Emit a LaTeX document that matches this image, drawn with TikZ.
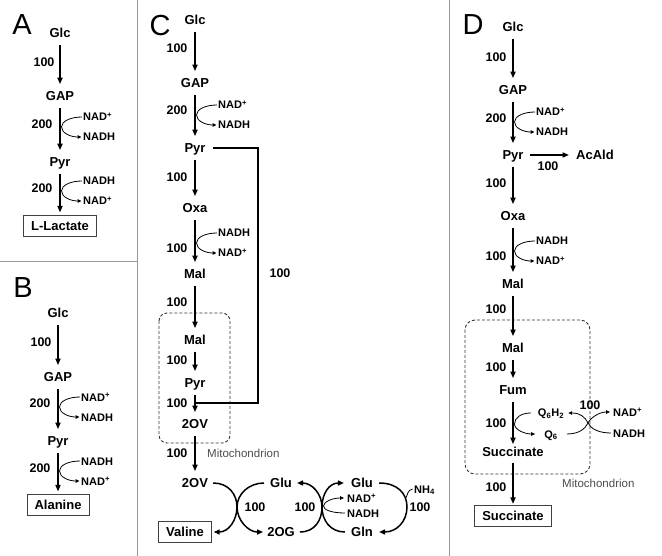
\documentclass[tikz,border=0pt]{standalone}
\usepackage{fontspec}
\setmainfont{Liberation Sans}
\usetikzlibrary{arrows.meta}
\newcommand\cofside[5]{%
  \node[cof] (#1t) at (#2+22,#3-10) {#4};
  \node[cof] (#1b) at (#2+22,#3+10) {#5};
  \draw[thinarr] (#1t.west) .. controls +(-11,0) and +(0,-6) .. (#2+1.5,#3) .. controls +(0,6) and +(-11,0) .. ([xshift=-0.5pt]#1b.west);
}
\begin{document}
\begin{tikzpicture}[x=1pt,y=-1pt,
  lbl/.style={font=\fontsize{13}{14}\selectfont\bfseries, inner sep=1pt, text height=9.3pt, text depth=0pt},
  num/.style={font=\fontsize{12.5}{14}\selectfont\bfseries, inner sep=0pt, text height=9pt, text depth=0pt},
  cof/.style={font=\fontsize{11}{12}\selectfont\bfseries, inner sep=1pt, text height=8pt, text depth=0pt, anchor=west},
  cofc/.style={font=\fontsize{11}{12}\selectfont\bfseries, inner sep=1pt, text height=8pt, text depth=0pt},
  prod/.style={lbl, draw=black!75, line width=0.8pt, inner xsep=7.5pt, inner ysep=5.5pt},
  plet/.style={font=\fontsize{29}{31}\selectfont, inner sep=0pt, anchor=base},
  mito/.style={font=\fontsize{11.5}{13}\selectfont, text=black!70, inner sep=0pt, anchor=west, text height=8.3pt, text depth=0pt},
  flux/.style={line width=1.6pt, -{Triangle[length=6.5pt,width=5pt]}, shorten <=6pt, shorten >=6pt},
  fluxline/.style={line width=1.6pt},
  cycarr/.style={line width=1.5pt, -{Triangle[length=6pt,width=5pt]}},
  thinarr/.style={line width=0.8pt, -{Triangle[length=4pt,width=3.5pt]}},
  thinl/.style={line width=0.8pt},
  mitobox/.style={draw=black!80, line width=0.9pt, dash pattern=on 3pt off 2pt},
  divider/.style={draw=black!40, line width=1pt}
]
\useasboundingbox (0,0) rectangle (662,556);
% dividers
\draw[divider] (137,0) -- (137,556);
\draw[divider] (449,0) -- (449,556);
\draw[divider] (0,262) -- (137,262);

% ---------- Panel A ----------
\node[plet] (Alet) at (22,35) {A};
\node[lbl] (AGlc) at (60,33) {Glc};
\node[lbl] (AGAP) at (60,96) {GAP};
\node[lbl] (APyr) at (60,162) {Pyr};
\node[prod] (ALac) at (60,226) {L-Lactate};
\draw[flux] (AGlc) -- (AGAP);
\draw[flux] (AGAP) -- (APyr);
\draw[flux, shorten >=3pt] (APyr) -- (ALac);
\node[num] (An1) at (44,62) {100};
\node[num] (An2) at (42,124) {200};
\node[num] (An3) at (42,188) {200};
\cofside{Aca}{60}{127}{NAD\textsuperscript{+}}{NADH}
\cofside{Acb}{60}{191}{NADH}{NAD\textsuperscript{+}}

% ---------- Panel B ----------
\node[plet] (Blet) at (23,298) {B};
\node[lbl] (BGlc) at (58,313) {Glc};
\node[lbl] (BGAP) at (58,377) {GAP};
\node[lbl] (BPyr) at (58,441) {Pyr};
\node[prod] (BAla) at (58,505) {Alanine};
\draw[flux] (BGlc) -- (BGAP);
\draw[flux] (BGAP) -- (BPyr);
\draw[flux, shorten >=3pt] (BPyr) -- (BAla);
\node[num] (Bn1) at (41,342) {100};
\node[num] (Bn2) at (40,403) {200};
\node[num] (Bn3) at (40,468) {200};
\cofside{Bca}{58}{407}{NAD\textsuperscript{+}}{NADH}
\cofside{Bcb}{58}{471}{NADH}{NAD\textsuperscript{+}}

% ---------- Panel C ----------
\node[plet] (Clet) at (160,36) {C};
\node[lbl] (CGlc) at (195,20) {Glc};
\node[lbl] (CGAP) at (195,83) {GAP};
\node[lbl] (CPyr) at (195,148) {Pyr};
\node[lbl] (COxa) at (195,208) {Oxa};
\node[lbl] (CMal) at (195,274) {Mal};
\node[lbl] (CMal2) at (195,340) {Mal};
\node[lbl] (CPyr2) at (195,383) {Pyr};
\node[lbl] (C2OV) at (195,424) {2OV};
\node[lbl] (C2OVb) at (195,483) {2OV};
\node[prod] (CVal) at (185,532) {Valine};
\node[lbl] (CGluL) at (281,483) {Glu};
\node[lbl] (C2OG) at (281,532) {2OG};
\node[lbl] (CGluR) at (362,483) {Glu};
\node[lbl] (CGln) at (362,532) {Gln};
\draw[mitobox, rounded corners=8pt] (159,313) rectangle (230,443);
\node[mito] (CMito) at (207,453) {Mitochondrion};
\draw[flux] (CGlc) -- (CGAP);
\draw[flux] (CGAP) -- (CPyr);
\draw[flux] (CPyr) -- (COxa);
\draw[flux] (COxa) -- (CMal);
\draw[flux] (CMal) -- (CMal2);
\draw[flux] (CMal2) -- (CPyr2);
\draw[flux] (CPyr2) -- (C2OV);
\draw[flux] (C2OV) -- (C2OVb);
\coordinate (Ccor1) at (258,148);
\coordinate (Ccor2) at (258,403);
\coordinate (Cjoin) at (195.8,403);
\draw[fluxline] ([xshift=6.5pt]CPyr.east) -- (Ccor1) -- (Ccor2) -- (Cjoin);
\node[num] (Cn1) at (177,48) {100};
\node[num] (Cn2) at (177,110) {200};
\node[num] (Cn3) at (177,177) {100};
\node[num] (Cn4) at (177,248) {100};
\node[num] (Cn5) at (177,302) {100};
\node[num] (Cn6) at (177,360) {100};
\node[num] (Cn7) at (177,403) {100};
\node[num] (Cn8) at (177,453) {100};
\node[num] (Cn9) at (280,273) {100};
\cofside{Cca}{195}{115}{NAD\textsuperscript{+}}{NADH}
\cofside{Ccb}{195}{243}{NADH}{NAD\textsuperscript{+}}
% transamination / glutamate cycle
\coordinate (CxL) at (237,507);
\coordinate (CxR) at (322,507);
\coordinate (CxA) at (407,507);
\coordinate (CxN) at (323.5,506);
\coordinate (CxH) at (405.5,499);
\draw[cycarr] ([xshift=4pt]C2OVb.east) .. controls +(15,0) and +(0,-13) .. (CxL) .. controls +(0,13) and +(15,0) .. ([xshift=2pt]CVal.east);
\draw[cycarr] ([xshift=-5pt]CGluL.west) .. controls +(-15,0) and +(0,-13) .. (CxL) .. controls +(0,13) and +(-15,0) .. ([xshift=-3pt]C2OG.west);
\draw[cycarr] ([xshift=4pt]C2OG.east) .. controls +(15,0) and +(0,13) .. (CxR) .. controls +(0,-13) and +(15,0) .. ([xshift=4pt]CGluL.east);
\draw[cycarr] ([xshift=-5pt]CGln.west) .. controls +(-15,0) and +(0,13) .. (CxR) .. controls +(0,-13) and +(-15,0) .. ([xshift=-6pt]CGluR.west);
\draw[cycarr] ([xshift=5pt]CGluR.east) .. controls +(18,0) and +(0,-14) .. (CxA) .. controls +(0,14) and +(18,0) .. ([xshift=5pt]CGln.east);
\node[cof] (CNADp) at (346,498) {NAD\textsuperscript{+}};
\node[cof] (CNADH) at (346,513) {NADH};
\node[cof] (CNH4) at (413,489) {NH\textsubscript{4}};
\draw[thinarr] ([xshift=-1pt]CNADH.west) .. controls +(-13,0) and +(0,4) .. (CxN) .. controls +(0,-4) and +(-12,0) .. ([xshift=-2pt]CNADp.west);
\draw[thinl] ([xshift=-0.5pt]CNH4.west) .. controls +(-5,1) and +(2,-4) .. (CxH);
\node[num] (Cn10) at (255,507) {100};
\node[num] (Cn11) at (305,507) {100};
\node[num] (Cn12) at (420,507) {100};

% ---------- Panel D ----------
\node[plet] (Dlet) at (473,35) {D};
\node[lbl] (DGlc) at (513,27) {Glc};
\node[lbl] (DGAP) at (513,90) {GAP};
\node[lbl] (DPyr) at (513,155) {Pyr};
\node[lbl] (DAc) at (595,155) {AcAld};
\node[lbl] (DOxa) at (513,216) {Oxa};
\node[lbl] (DMal) at (513,284) {Mal};
\node[lbl] (DMal2) at (513,348) {Mal};
\node[lbl] (DFum) at (513,390) {Fum};
\node[lbl] (DSucc) at (513,452) {Succinate};
\node[prod] (DSbox) at (513,516) {Succinate};
\draw[mitobox, rounded corners=10pt] (465,320) rectangle (590,474);
\node[mito] (DMito) at (562,483) {Mitochondrion};
\draw[flux] (DGlc) -- (DGAP);
\draw[flux] (DGAP) -- (DPyr);
\draw[flux, shorten <=5pt] (DPyr) -- (DAc);
\draw[flux] (DPyr) -- (DOxa);
\draw[flux] (DOxa) -- (DMal);
\draw[flux] (DMal) -- (DMal2);
\draw[flux] (DMal2) -- (DFum);
\draw[flux, shorten >=2pt] (DFum) -- (DSucc);
\draw[flux, shorten <=5pt, shorten >=1.5pt] (DSucc) -- (DSbox);
\node[num] (Dn1) at (496,57) {100};
\node[num] (Dn2) at (496,118) {200};
\node[num] (Dn3) at (548,166) {100};
\node[num] (Dn4) at (496,183) {100};
\node[num] (Dn5) at (496,256) {100};
\node[num] (Dn6) at (496,309) {100};
\node[num] (Dn7) at (496,367) {100};
\node[num] (Dn8) at (496,423) {100};
\node[num] (Dn9) at (496,487) {100};
\node[num] (Dn10) at (590,405) {100};
\cofside{Dca}{513}{122}{NAD\textsuperscript{+}}{NADH}
\cofside{Dcb}{513}{251}{NADH}{NAD\textsuperscript{+}}
% quinone shuttle
\node[cofc] (DQ6H2) at (551,413) {Q\textsubscript{6}H\textsubscript{2}};
\node[cofc] (DQ6) at (551,434) {Q\textsubscript{6}};
\node[cof] (DNADp) at (612,412) {NAD\textsuperscript{+}};
\node[cof] (DNADH) at (612,433) {NADH};
\coordinate (Dq) at (514.5,424);
\coordinate (Dx) at (588,423);
\draw[thinarr] ([xshift=-6pt]DQ6H2.west) .. controls +(-10,0) and +(0,-6) .. (Dq) .. controls +(0,6) and +(-10,0) .. ([xshift=-8pt]DQ6.west);
\draw[thinarr] ([xshift=8pt]DQ6.east) .. controls +(12,0) and +(-3,6) .. (Dx) .. controls +(3,-6) and +(-10,0) .. ([xshift=-2pt]DNADp.west);
\draw[thinarr] ([xshift=-1pt]DNADH.west) .. controls +(-12,0) and +(3,6) .. (Dx) .. controls +(-3,-6) and +(12,0) .. ([xshift=3pt]DQ6H2.east);
\end{tikzpicture}
\end{document}
